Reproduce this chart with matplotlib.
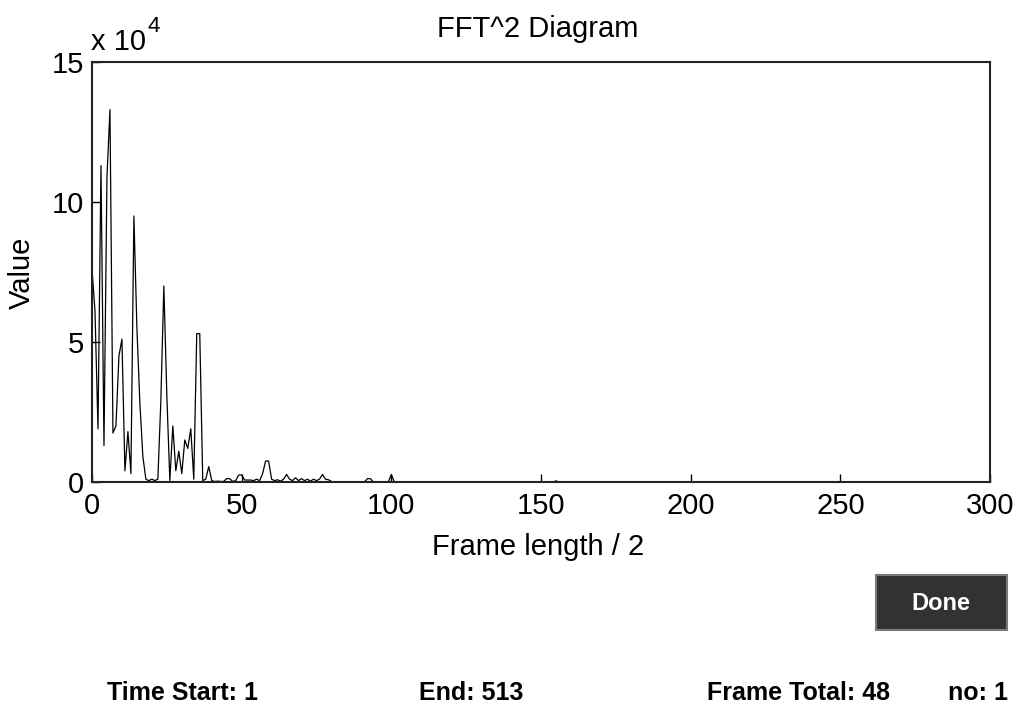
import numpy as np
import matplotlib
matplotlib.use("Agg")
from matplotlib import pyplot as plt
from matplotlib.patches import Rectangle

# FFT^2 values, units of 1e4, index 0..
fft_head = [7.6, 6.1, 1.9, 11.3, 1.3, 10.9, 13.3, 1.75, 2.0, 4.5,
            5.1, 0.4, 1.8, 0.3, 9.5, 5.5, 2.8, 0.9, 0.1, 0.05,
            0.1, 0.05, 0.1, 2.9, 7.0, 3.1, 0.05, 2.0, 0.4, 1.1,
            0.3, 1.5, 1.2, 1.9, 0.1, 5.3, 5.3, 0.05, 0.1, 0.55,
            0.05, 0.02, 0.03, 0.02, 0.02, 0.12, 0.12, 0.02, 0.05, 0.25,
            0.25, 0.07, 0.07, 0.07, 0.05, 0.1, 0.05, 0.3, 0.75, 0.75,
            0.1, 0.05, 0.08, 0.03, 0.1, 0.27, 0.1, 0.05, 0.15, 0.05,
            0.12, 0.05, 0.1, 0.03, 0.1, 0.05, 0.1, 0.27, 0.1, 0.08,
            0.02]
# sparse small bumps further out (index: value)
fft_tail = {92: 0.12, 93: 0.12, 100: 0.27, 155: 0.04}
n_points = 257

fft_vals = np.zeros(n_points)
fft_vals[:len(fft_head)] = fft_head
for k, v in fft_tail.items():
    fft_vals[k] = v
idx = np.arange(n_points)

x_ticks = [0, 50, 100, 150, 200, 250, 300]
y_ticks = [0, 5, 10, 15]

W, H = 1019, 706
fig = plt.figure(figsize=(W / 100, H / 100), dpi=100)
fig.patch.set_facecolor("white")

fam = ["Liberation Sans", "DejaVu Sans"]
ax = fig.add_axes([92 / W, 1 - 482 / H, 898 / W, 420 / H])
ax.plot(idx, fft_vals, color="black", lw=0.9)
ax.set_xlim(0, 300)
ax.set_ylim(0, 15)
ax.set_xticks(x_ticks)
ax.set_yticks(y_ticks)
ax.set_xticklabels([str(t) for t in x_ticks], family=fam, fontsize=21)
ax.set_yticklabels([str(t) for t in y_ticks], family=fam, fontsize=21)
ax.tick_params(direction="in", length=6, width=1.0, pad=7, colors="black")
ax.tick_params(axis="y", pad=6)
for s in ax.spines.values():
    s.set_linewidth(1.5)
    s.set_color("#222222")

# titles / labels placed in pixel coords
def ftext(x, y, s, **kw):
    fig.text(x / W, 1 - y / H, s, **kw)

ftext(538, 37, "FFT^2 Diagram", ha="center", va="baseline", family=fam, fontsize=21)
ftext(538, 555, "Frame length / 2", ha="center", va="baseline", family=fam, fontsize=21)
ftext(22, 273, "Value", ha="center", va="center", rotation=90, family=fam, fontsize=21)
ftext(91, 50, "x 10", ha="left", va="baseline", family=fam, fontsize=21)
ftext(147, 32, "4", ha="left", va="baseline", family=fam, fontsize=16)

# Done button
btn = Rectangle((876 / W, 1 - 630 / H), 131 / W, 55 / H, transform=fig.transFigure,
                facecolor="#323232", edgecolor="#7a7a7a", lw=1.5)
fig.patches.append(btn)
ftext(941, 603, "Done", ha="center", va="center", family=fam, fontsize=17,
      fontweight="bold", color="white")

# status line
for x, s in [(107, "Time Start: 1"), (419, "End: 513"),
             (707, "Frame Total: 48"), (948, "no: 1")]:
    ftext(x, 700, s, ha="left", va="baseline", family=fam, fontsize=18,
          fontweight="bold", color="black")

fig.savefig("out.png", dpi=100, facecolor="white")
